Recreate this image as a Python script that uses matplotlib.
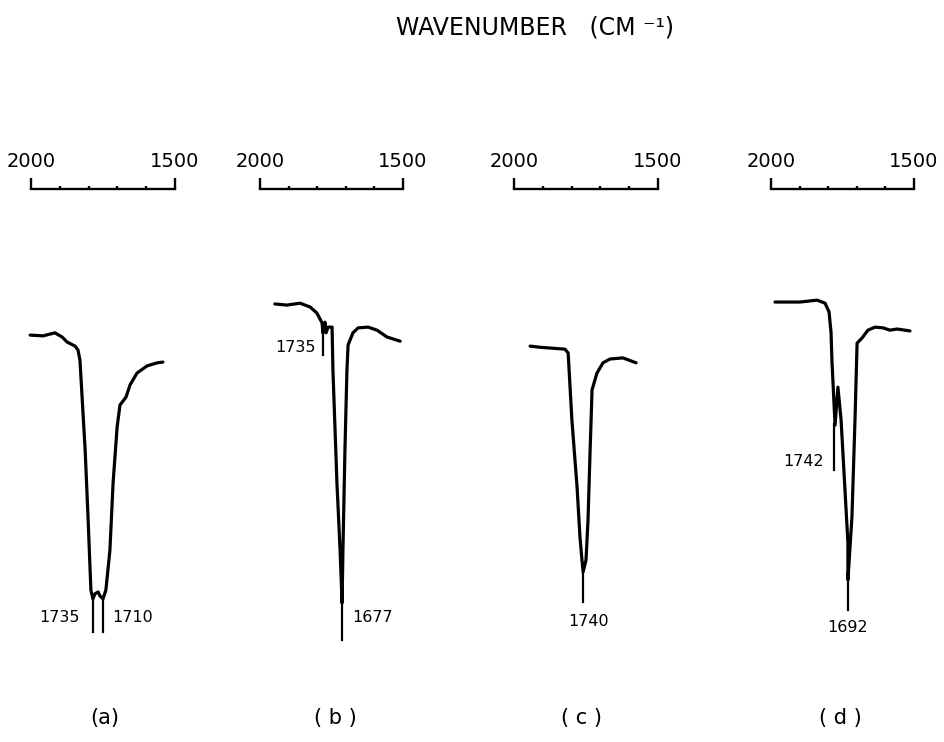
import matplotlib
matplotlib.use("Agg")
import matplotlib.pyplot as plt
from matplotlib.ticker import FixedLocator, NullLocator

# ---------------- data (wavenumber cm-1, transmittance arbitrary %) ----------------
panel_names = ["(a)", "( b )", "( c )", "( d )"]
scale_major = [2000, 1500]
scale_minor = [1900, 1800, 1700, 1600]

wn_a = [2003, 1958, 1917, 1892, 1875, 1847, 1837, 1830, 1812, 1802, 1792, 1785, 1778,
        1767, 1760, 1750, 1740, 1726, 1715, 1701, 1691, 1670, 1656, 1632, 1597, 1562, 1542]
t_a = [85.5, 85.3, 86.1, 85.0, 83.7, 82.6, 81.6, 78.9, 55.3, 37.6, 18.4, 16.1, 17.4,
       17.9, 16.8, 16.1, 18.4, 28.9, 46.6, 61.3, 67.1, 69.2, 72.4, 75.5, 77.4, 78.2, 78.4]

wn_b = [1948, 1906, 1860, 1825, 1801, 1783, 1780, 1773, 1769, 1762, 1748, 1745, 1731,
        1720, 1713, 1710, 1703, 1696, 1692, 1675, 1657, 1622, 1591, 1556, 1510]
t_b = [93.7, 93.4, 93.9, 92.9, 91.3, 88.7, 86.1, 88.9, 86.1, 87.6, 87.6, 76.3, 46.6,
       28.9, 15.0, 28.9, 55.3, 76.3, 82.9, 86.1, 87.4, 87.6, 86.8, 85.0, 83.9]

wn_c = [1944, 1910, 1823, 1812, 1799, 1781, 1771, 1764, 1760, 1750, 1743, 1736, 1729,
        1712, 1691, 1667, 1622, 1576]
t_c = [82.6, 82.3, 81.8, 80.8, 63.2, 45.5, 32.4, 26.3, 23.2, 26.3, 36.8, 54.5, 71.1,
       75.5, 78.2, 79.2, 79.5, 78.2]

wn_d = [1986, 1899, 1839, 1811, 1797, 1790, 1787, 1776, 1766, 1755, 1731, 1731, 1717,
        1706, 1699, 1682, 1661, 1636, 1608, 1584, 1559, 1514]
t_d = [94.2, 94.2, 94.7, 93.9, 91.6, 86.1, 78.9, 61.8, 71.8, 63.2, 30.8, 21.1, 37.6,
       63.9, 83.4, 84.7, 86.8, 87.6, 87.4, 86.8, 87.1, 86.6]

peaks_a = ["1735", "1710"]
peaks_b = ["1735", "1677"]
peaks_c = ["1740"]
peaks_d = ["1742", "1692"]

series = [(wn_a, t_a, peaks_a), (wn_b, t_b, peaks_b), (wn_c, t_c, peaks_c), (wn_d, t_d, peaks_d)]

# ---------------- layout ----------------
W, H = 944, 742
fig = plt.figure(figsize=(W / 100, H / 100), dpi=100)
fig.patch.set_facecolor("white")

# pixel x of the 2000 mark and pixels per cm-1 for each panel
x2000 = [31, 260, 514, 771]
ppc = [0.288, 0.286, 0.288, 0.286]
AX_TOP, AX_BOT = 189, 700
def t_of(ypx):
    return (660 - ypx) / 3.8

# peak marker layout: (marker wn, T from, T to, text wn, text T, ha)
marks = [
    [(1785, 16.1, t_of(632), 1829, t_of(618), "right"),
     (1750, 16.1, t_of(632), 1719, t_of(618), "left")],
    [(1780, 86.1, t_of(355), 1806, t_of(347), "right"),
     (1713, 15.0, t_of(640), 1676, t_of(618), "left")],
    [(1760, 23.2, t_of(602), 1740, t_of(622), "center")],
    [(1780, 62.0, t_of(470), 1816, t_of(461), "right"),
     (1731, 21.1, t_of(610), 1733, t_of(628), "center")],
]
label_px = [105, 335, 582, 840]

for i, (wn, tt, peaks) in enumerate(series):
    lpx = x2000[i] - 28
    rpx = min(x2000[i] + 170, W - 1)
    ax = fig.add_axes([lpx / W, (H - AX_BOT) / H, (rpx - lpx) / W, (AX_BOT - AX_TOP) / H])
    ax.set_xlim(2000 + (x2000[i] - lpx) / ppc[i], 2000 - (rpx - x2000[i]) / ppc[i])
    ax.set_ylim(t_of(AX_BOT), t_of(AX_TOP))
    ax.patch.set_alpha(0)
    for s in ["left", "right", "bottom"]:
        ax.spines[s].set_visible(False)
    ax.spines["top"].set_bounds(scale_major[0], scale_major[1])
    ax.spines["top"].set_linewidth(1.7)
    ax.xaxis.set_ticks_position("top")
    ax.xaxis.set_major_locator(FixedLocator(scale_major))
    ax.xaxis.set_minor_locator(FixedLocator(scale_minor))
    ax.set_xticklabels([str(v) for v in scale_major])
    ax.tick_params(axis="x", which="major", direction="out", length=8, width=1.7,
                   pad=5, labelsize=14)
    ax.tick_params(axis="x", which="minor", direction="out", length=2.5, width=1.7)
    ax.yaxis.set_major_locator(NullLocator())

    ax.plot(wn, tt, color="black", lw=2.3, solid_joinstyle="round",
            solid_capstyle="round", clip_on=False)
    for lab, (mx, t1, t2, tx, ty, ha) in zip(peaks, marks[i]):
        ax.plot([mx, mx], [t1, t2], color="black", lw=1.6, clip_on=False)
        ax.text(tx, ty, lab, ha=ha, va="center", fontsize=11.5)

    lab_wn = 2000 - (label_px[i] - x2000[i]) / ppc[i]
    ax.text(lab_wn, t_of(718), panel_names[i], ha="center", va="center", fontsize=15)

fig.text(535 / W, 1 - 27 / H, "WAVENUMBER   (CM ⁻¹)", ha="center", va="center",
         fontsize=17)

fig.savefig("out.png", dpi=100, facecolor="white")
